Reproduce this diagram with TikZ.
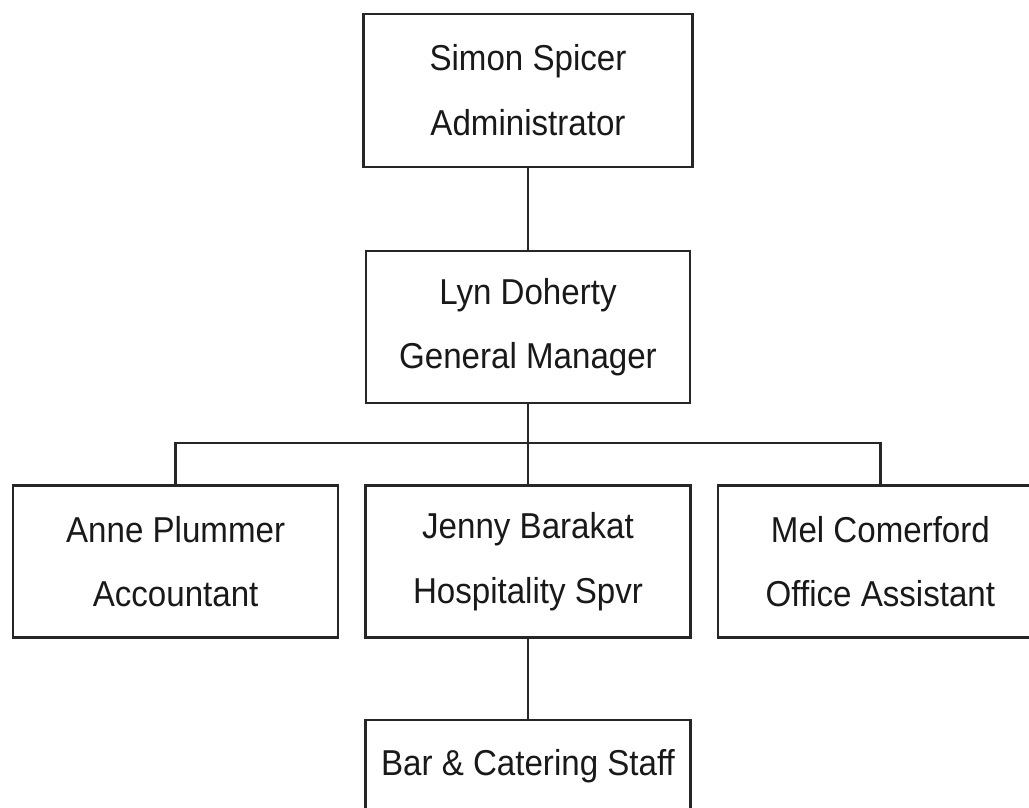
\documentclass[tikz,border=0pt]{standalone}
\usepackage{fontspec}
\setmainfont[FakeStretch=0.92]{Liberation Sans}
\tikzset{
  orgbox/.style={draw=black!85, rectangle, line width=1.8pt, minimum width=8.13cm, minimum height=3.8cm, align=center, font=\fontsize{25.6}{46}\selectfont, text=black!90},
  orgline/.style={draw=black!85, line width=1.8pt}
}
\begin{document}
\begin{tikzpicture}
\clip (0,0) rectangle (25.725,-20.175);
\node[orgbox, minimum width=8.23cm, minimum height=3.83cm] (admin) at (13.2, -2.26) {Simon Spicer\\Administrator};
\node[orgbox, minimum width=8.1cm] (gm) at (13.2, -8.18) {Lyn Doherty\\General Manager};
\node[orgbox] (anne) at (4.39, -14.04) {Anne Plummer\\Accountant};
\node[orgbox] (jenny) at (13.2, -14.04) {Jenny Barakat\\Hospitality Spvr};
\node[orgbox] (mel) at (22.01, -14.04) {Mel Comerford\\Office Assistant};
\node[orgbox, minimum height=2.3cm] (staff) at (13.2, -19.15) {Bar \& Catering Staff};
\coordinate (bus) at (13.2, -11.08);
\draw[orgline] (admin.south) -- (gm.north);
\draw[orgline] (gm.south) -- (bus);
\draw[orgline] (anne.north) -- (anne.north |- bus) -- (mel.north |- bus) -- (mel.north);
\draw[orgline] (bus) -- (jenny.north);
\draw[orgline] (jenny.south) -- (staff.north);
\end{tikzpicture}
\end{document}
